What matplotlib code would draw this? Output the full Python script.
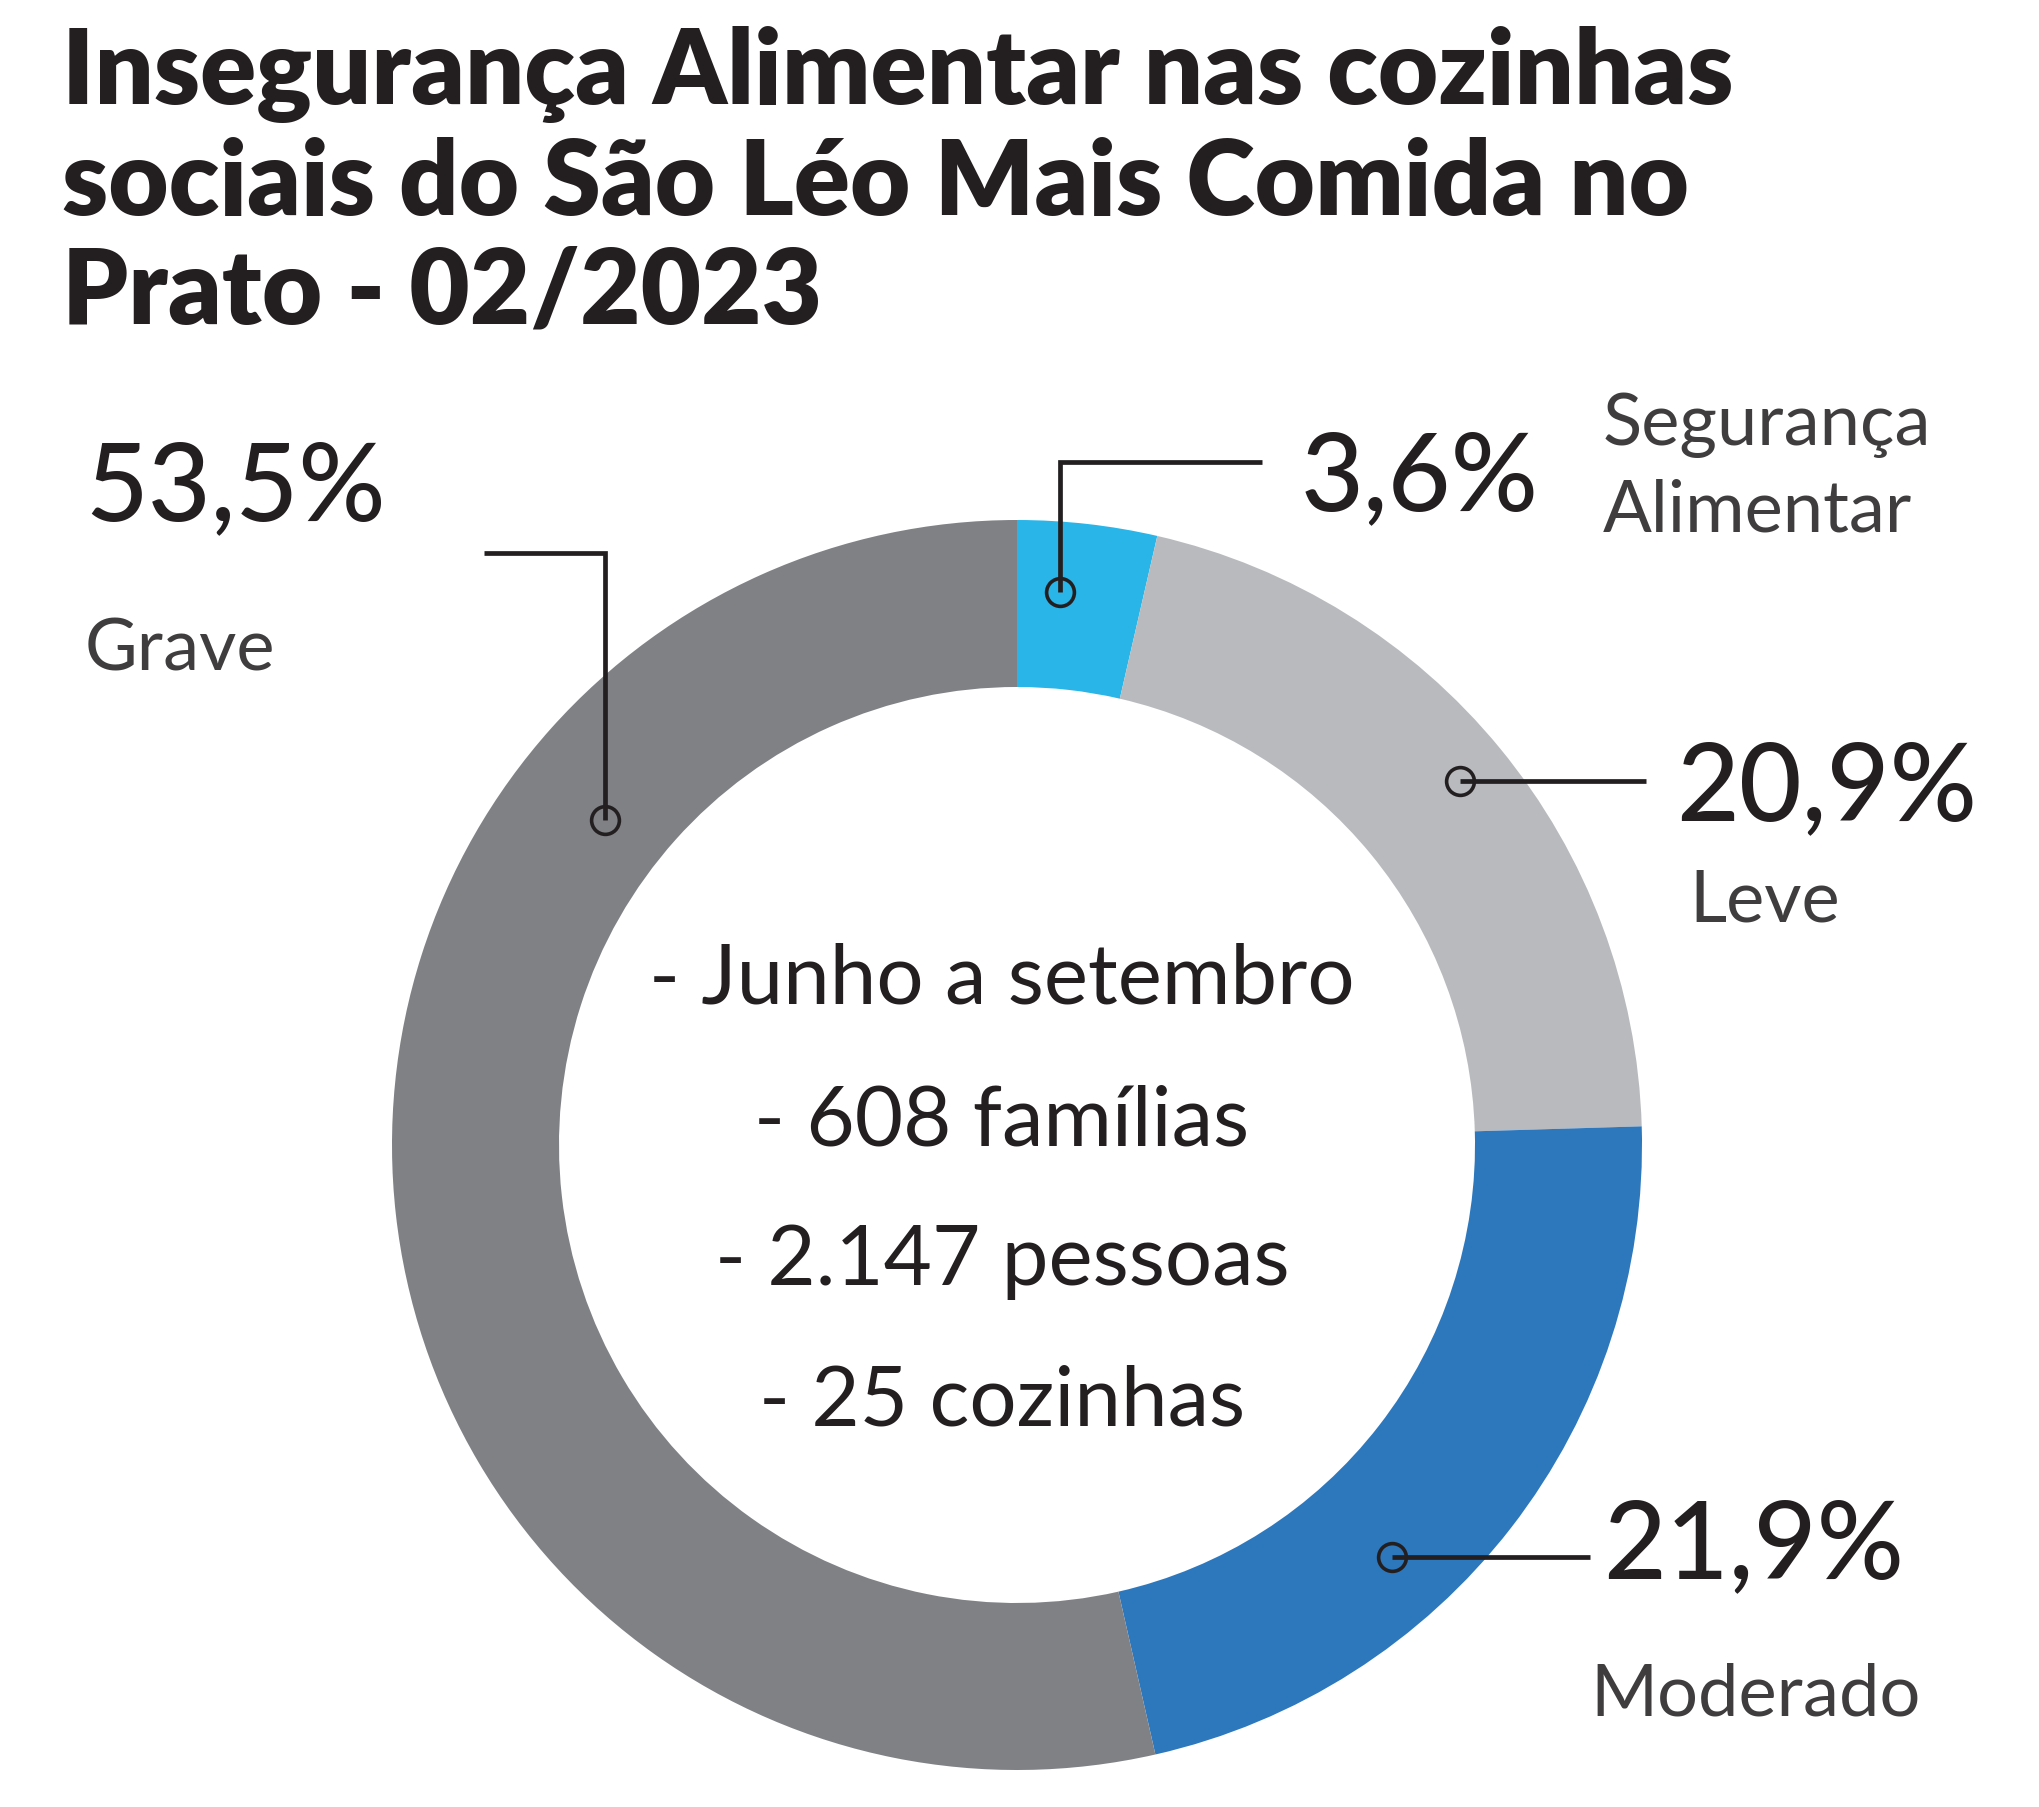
import matplotlib
matplotlib.use("Agg")
import matplotlib.pyplot as plt

# ---- data ----
categories = ["Segurança\nAlimentar", "Leve", "Moderado", "Grave"]
values = [3.6, 20.9, 21.9, 53.5]
value_labels = ["3,6%", "20,9%", "21,9%", "53,5%"]
colors = ["#29B5E8", "#B9BABD", "#2D78BD", "#808185"]
title = "Insegurança Alimentar nas cozinhas\nsociais do São Léo Mais Comida no\nPrato - 02/2023"
center_lines = ["- Junho a setembro", "- 608 famílias", "- 2.147 pessoas", "- 25 cozinhas"]

W, H = 2040, 1807
fig = plt.figure(figsize=(W / 100, H / 100), dpi=100)
ax = fig.add_axes([0, 0, 1, 1])

def Y(y):
    return H - y

cx, cy = 1017, 1145
R_out, R_in = 625, 458
ax.pie(values, colors=colors, startangle=90, counterclock=False,
       radius=R_out, center=(cx, Y(cy)),
       wedgeprops=dict(width=R_out - R_in, linewidth=0))
ax.set_xlim(0, W)
ax.set_ylim(0, H)
ax.set_aspect("equal")
ax.axis("off")

FONT = "Lato"
DARK = "#231F20"
GRAY = "#3F3D3E"

# title
title_lines = title.split("\n")
for i, (line, base) in enumerate(zip(title_lines, [104, 215, 323])):
    ax.text(62, Y(base), line, fontsize=75, fontweight="heavy", family=FONT,
            color=DARK, va="baseline", ha="left")

# center text
for line, base in zip(center_lines, [1004, 1145, 1285, 1426]):
    ax.text(1002, Y(base), line, fontsize=60, family=FONT, color=DARK,
            va="baseline", ha="center")

# leader lines: (dot point, path points) in pixel layout
lw = 3.4
leaders = [
    [(1060, 592), (1060, 462), (1262, 462)],
    [(1460, 781), (1646, 781)],
    [(1392, 1557), (1590, 1557)],
    [(605, 820), (605, 553), (484, 553)],
]
for pts in leaders:
    xs = [p[0] for p in pts]
    ys = [Y(p[1]) for p in pts]
    ax.plot(xs, ys, color=DARK, lw=lw, solid_capstyle="butt",
            solid_joinstyle="miter", zorder=5)
    ax.plot(xs[0], ys[0], marker="o", markersize=20, mfc="none",
            mec=DARK, mew=2.6, zorder=6)

# value labels
val_pos = [(1301, 510), (1676, 820), (1603, 1578), (85, 520)]
for lab, (x, y) in zip(value_labels, val_pos):
    ax.text(x, Y(y), lab, fontsize=78, family=FONT, fontweight="medium",
            color=DARK, va="baseline", ha="left")

# category labels
cat_pos = [[(1603, 445), (1603, 531)], [(1689, 921)], [(1590, 1715)], [(85, 670)]]
for cat, poss in zip(categories, cat_pos):
    for line, (x, y) in zip(cat.split("\n"), poss):
        ax.text(x, Y(y), line, fontsize=52, family=FONT, color=GRAY,
                va="baseline", ha="left")

fig.savefig("out.png", dpi=100, facecolor="white")
